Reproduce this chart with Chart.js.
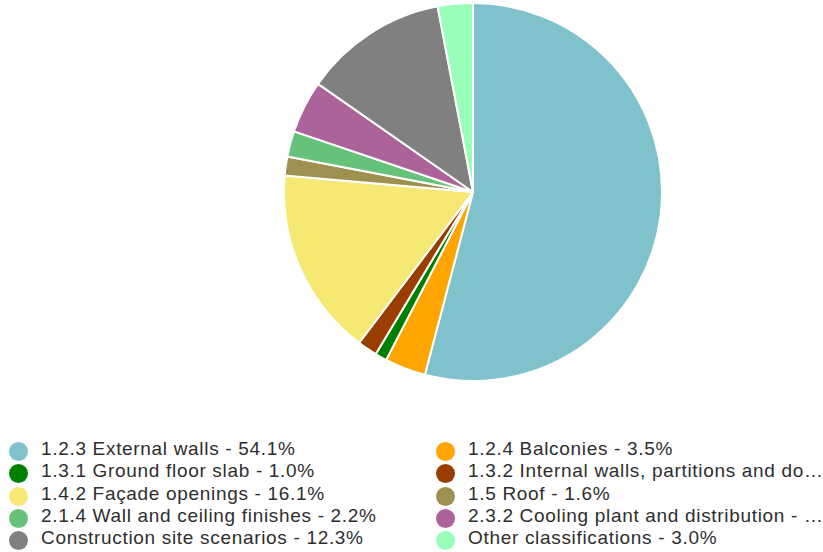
<!DOCTYPE html>
<html>
<head>
<meta charset="utf-8">
<script src="https://cdn.jsdelivr.net/npm/chart.js@4/dist/chart.umd.min.js"></script>
<style>
  html, body { margin: 0; padding: 0; background: #fff; }
  body { width: 823px; height: 552px; position: relative; overflow: hidden; font-family: "Liberation Sans", Arial, sans-serif; }
  #pieBox { position: absolute; left: 283px; top: 2px; width: 380px; height: 380px; }
  #legend { position: absolute; left: 0; top: 438px; width: 823px; }
  .item { position: absolute; height: 22px; line-height: 22px; font-size: 19px; letter-spacing: 0.68px; color: #2e2e2e; white-space: nowrap; overflow: hidden; text-overflow: ellipsis; }
  .dot { position: absolute; width: 19px; height: 19px; border-radius: 50%; }
</style>
</head>
<body>
<div id="pieBox"><canvas id="pie"></canvas></div>
<div id="legend"></div>
<script>
const categories = [
  "1.2.3 External walls",
  "1.2.4 Balconies",
  "1.3.1 Ground floor slab",
  "1.3.2 Internal walls, partitions and doors",
  "1.4.2 Façade openings",
  "1.5 Roof",
  "2.1.4 Wall and ceiling finishes",
  "2.3.2 Cooling plant and distribution",
  "Construction site scenarios",
  "Other classifications"
];
const shares = [54.1, 3.5, 1.0, 1.7, 16.1, 1.6, 2.2, 4.5, 12.3, 3.0];
const colors = [
  "#80c2cb", "#ffa500", "#008000", "#993d00", "#f5e873",
  "#9e9150", "#66c27a", "#ab6399", "#808080", "#99ffb8"
];

new Chart(document.getElementById("pie"), {
  type: "pie",
  data: {
    labels: categories,
    datasets: [{
      data: shares,
      backgroundColor: colors,
      borderColor: "#ffffff",
      borderWidth: 2
    }]
  },
  options: {
    responsive: true,
    maintainAspectRatio: false,
    animation: false,
    plugins: {
      legend: { display: false },
      tooltip: { enabled: false }
    }
  }
});

// Two-column legend underneath the pie
const legend = document.getElementById("legend");
categories.forEach((name, i) => {
  const col = i % 2;
  const row = Math.floor(i / 2);
  const top = row * 22.3;
  const dot = document.createElement("div");
  dot.className = "dot";
  dot.style.background = colors[i];
  dot.style.left = (col ? 436 : 9) + "px";
  dot.style.top = (top + 4) + "px";
  legend.appendChild(dot);
  const txt = document.createElement("div");
  txt.className = "item";
  txt.style.left = (col ? 468 : 41) + "px";
  txt.style.top = top + "px";
  txt.style.width = (col ? 823 - 468 : 380) + "px";
  txt.textContent = name + " - " + shares[i].toFixed(1) + "%";
  legend.appendChild(txt);
});
</script>
</body>
</html>
